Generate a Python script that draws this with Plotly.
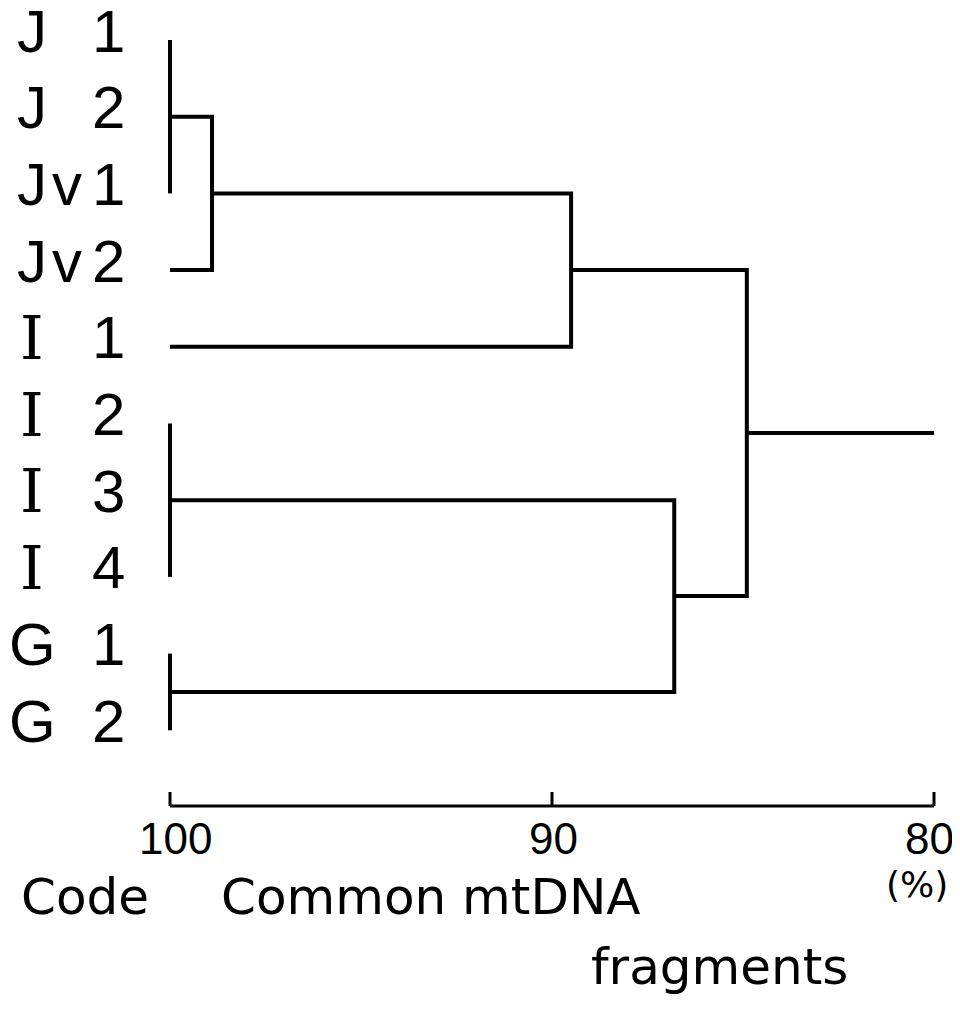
import plotly.graph_objects as go

# ---------------- data ----------------
leaf_labels = ["J 1", "J 2", "Jv1", "Jv2", "I 1", "I 2", "I 3", "I 4", "G 1", "G 2"]
node_names = ["A", "B", "C", "D", "E", "F", "R"]
node_children = [
    ["J 1", "J 2", "Jv1"],
    ["A", "Jv2"],
    ["B", "I 1"],
    ["I 2", "I 3", "I 4"],
    ["G 1", "G 2"],
    ["D", "E"],
    ["C", "F"],
]
node_similarity = [100.0, 98.9, 89.5, 100.0, 100.0, 86.8, 84.9]
root_extent = 80.0
tick_values = [100, 90, 80]
tick_labels = ["100", "90", "80"]

# ---------------- build dendrogram paths ----------------
ypos = {lab: i for i, lab in enumerate(leaf_labels)}
xpos = {lab: 100.0 for lab in leaf_labels}
xs, ys = [], []
for name, kids, sim in zip(node_names, node_children, node_similarity):
    kid_sorted = sorted(kids, key=lambda k: ypos[k])
    top, bot = kid_sorted[0], kid_sorted[-1]
    xs += [xpos[top], sim, sim, xpos[bot], None]
    ys += [ypos[top], ypos[top], ypos[bot], ypos[bot], None]
    for k in kid_sorted[1:-1]:
        if xpos[k] != sim:
            xs += [xpos[k], sim, None]
            ys += [ypos[k], ypos[k], None]
    ypos[name] = (ypos[top] + ypos[bot]) / 2.0
    xpos[name] = sim
root = node_names[-1]
xs += [xpos[root], root_extent, None]
ys += [ypos[root], ypos[root], None]

# page has an 8px body margin; work in page pixels and subtract it
OFF = 8
W, H = 960 - OFF, 1011 - OFF
px_per_pct = 38.2
x100 = 170 - OFF
x_left = 100 + x100 / px_per_pct
x_right = 100 - (W - x100) / px_per_pct
px_per_leaf = 76.7
y0 = 40 - OFF
y_top = -y0 / px_per_leaf
y_bot = (H - y0) / px_per_leaf

axis_y = (806 - 40) / px_per_leaf
tick_len = 14 / px_per_leaf


def px(xp):
    return (xp - OFF) / W


def py(yp):
    return 1 - (yp - OFF) / H


fig = go.Figure()
fig.add_trace(go.Scatter(x=xs, y=ys, mode="lines",
                         line=dict(color="black", width=4),
                         hoverinfo="skip", showlegend=False))

# scale bar (axis) with upward ticks
ax_x = [tick_values[0], tick_values[-1]]
fig.add_trace(go.Scatter(x=ax_x, y=[axis_y, axis_y], mode="lines",
                         line=dict(color="black", width=3),
                         hoverinfo="skip", showlegend=False))
tx, ty = [], []
for v in tick_values:
    tx += [v, v, None]
    ty += [axis_y, axis_y - tick_len, None]
fig.add_trace(go.Scatter(x=tx, y=ty, mode="lines",
                         line=dict(color="black", width=3),
                         hoverinfo="skip", showlegend=False))

annotations = []
# tick labels
label_shift = [5, 1, -5]
for v, t, sh in zip(tick_values, tick_labels, label_shift):
    annotations.append(dict(x=v, y=axis_y, xref="x", yref="y", text=t,
                            showarrow=False, yanchor="top", yshift=-6, xshift=sh,
                            font=dict(family="Liberation Sans", size=44, color="black")))

# leaf labels, three character columns
col_px = [32, 67, 108]
for lab in leaf_labels:
    for ci, ch in enumerate(lab):
        if ch == " ":
            continue
        fam = "DejaVu Serif" if ch == "I" else "Liberation Sans"
        annotations.append(dict(x=px(col_px[ci]), y=ypos[lab], xref="paper", yref="y",
                                text=ch, showarrow=False, xanchor="center",
                                yanchor="middle", yshift=9,
                                font=dict(family=fam, size=60, color="black")))

txt_font = dict(family="DejaVu Sans", size=50, color="black")
annotations.append(dict(x=px(19), y=py(897), xref="paper", yref="paper",
                        text="Code", showarrow=False, xanchor="left", yanchor="middle",
                        font=txt_font))
annotations.append(dict(x=px(219), y=py(897), xref="paper", yref="paper",
                        text="Common mtDNA", showarrow=False, xanchor="left",
                        yanchor="middle", font=txt_font))
annotations.append(dict(x=px(589), y=py(967), xref="paper", yref="paper",
                        text="fragments", showarrow=False, xanchor="left",
                        yanchor="middle", font=txt_font))
annotations.append(dict(x=px(917), y=py(884), xref="paper", yref="paper",
                        text="(%)", showarrow=False, xanchor="center",
                        yanchor="middle",
                        font=dict(family="DejaVu Sans", size=36, color="black")))

fig.update_layout(
    width=W, height=H,
    margin=dict(l=0, r=0, t=0, b=0),
    paper_bgcolor="white", plot_bgcolor="white",
    xaxis=dict(range=[x_left, x_right], visible=False, fixedrange=True),
    yaxis=dict(range=[y_bot, y_top], visible=False, fixedrange=True),
    annotations=annotations,
    showlegend=False,
)
fig.write_html("out.html")
